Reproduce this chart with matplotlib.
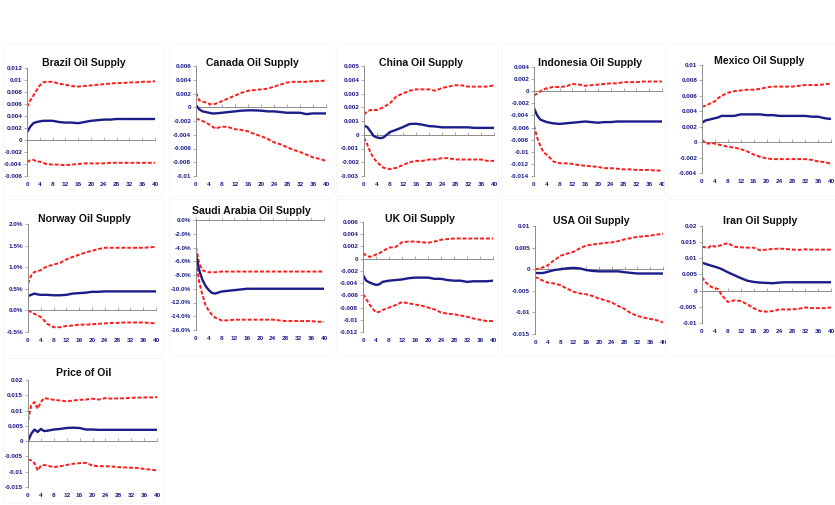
import numpy as np
import matplotlib
matplotlib.use("Agg")
import matplotlib.pyplot as plt
from matplotlib.ticker import FuncFormatter, MultipleLocator
from matplotlib.patches import Rectangle

# horizons (quarters) at which the responses are tabulated
h = [0, 1, 2, 3, 4, 5, 6, 8, 10, 12, 14, 16, 18, 20, 22, 24, 26, 28, 30, 32, 34, 36, 38, 40]

titles = ["Brazil Oil Supply", "Canada Oil Supply", "China Oil Supply",
          "Indonesia Oil Supply", "Mexico Oil Supply", "Norway Oil Supply",
          "Saudi Arabia Oil Supply", "UK Oil Supply", "USA Oil Supply",
          "Iran Oil Supply", "Price of Oil"]

# impulse response (irf) with upper / lower bands
brazil_irf = [0.0013, 0.0022, 0.0028, 0.0030, 0.0031, 0.0032, 0.0032, 0.0032, 0.0030, 0.0029, 0.0029, 0.0028,
              0.0030, 0.0032, 0.0033, 0.0034, 0.0034, 0.0035, 0.0035, 0.0035, 0.0035, 0.0035, 0.0035, 0.0035]
brazil_hi = [0.0055, 0.0066, 0.0074, 0.0083, 0.0091, 0.0096, 0.0097, 0.0097, 0.0094, 0.0092, 0.0090, 0.0089,
             0.0090, 0.0091, 0.0092, 0.0093, 0.0094, 0.0095, 0.0095, 0.0096, 0.0096, 0.0097, 0.0097, 0.0098]
brazil_lo = [-0.0037, -0.0034, -0.0033, -0.0036, -0.0036, -0.0038, -0.0040, -0.0041, -0.0041, -0.0042, -0.0041, -0.0040,
             -0.0039, -0.0039, -0.0039, -0.0039, -0.0038, -0.0038, -0.0038, -0.0038, -0.0038, -0.0038, -0.0038, -0.0038]

canada_irf = [0.0003, -0.0003, -0.0006, -0.0007, -0.0008, -0.0009, -0.0009, -0.0008, -0.0007, -0.0006, -0.0005, -0.00045,
              -0.00045, -0.0005, -0.0006, -0.0006, -0.0007, -0.0008, -0.0008, -0.0008, -0.0010, -0.0009, -0.0009, -0.0009]
canada_hi = [0.0021, 0.0010, 0.0008, 0.0007, 0.0005, 0.0004, 0.0005, 0.0009, 0.0013, 0.0017, 0.0021, 0.0024,
             0.0025, 0.0026, 0.0027, 0.0030, 0.0033, 0.0036, 0.0037, 0.0037, 0.0037, 0.0038, 0.0038, 0.0039]
canada_lo = [-0.0017, -0.0018, -0.0020, -0.0022, -0.0025, -0.0028, -0.0031, -0.0028, -0.0029, -0.0032, -0.0033, -0.0035,
             -0.0039, -0.0042, -0.0046, -0.0051, -0.0054, -0.0058, -0.0062, -0.0065, -0.0069, -0.0073, -0.0075, -0.0078]

china_irf = [0.00066, 0.00056, 0.00024, -0.0001, -0.0002, -0.00025, -0.0002, 0.0002, 0.00037, 0.00056, 0.00078, 0.0008,
             0.00073, 0.00063, 0.0006, 0.00054, 0.00054, 0.00054, 0.00054, 0.00054, 0.0005, 0.0005, 0.0005, 0.0005]
china_hi = [0.00146, 0.0017, 0.0018, 0.0018, 0.0018, 0.0019, 0.0020, 0.0023, 0.0028, 0.0030, 0.0032, 0.0033,
            0.0033, 0.0033, 0.0032, 0.0034, 0.0035, 0.0036, 0.0036, 0.0035, 0.0035, 0.0035, 0.0035, 0.0036]
china_lo = [-0.0002, -0.0007, -0.0013, -0.0017, -0.0020, -0.0022, -0.0024, -0.0025, -0.0024, -0.0022, -0.0020, -0.0019,
            -0.0019, -0.0018, -0.0018, -0.0017, -0.0017, -0.0018, -0.0018, -0.0018, -0.0018, -0.0018, -0.0019, -0.0019]

indonesia_irf = [-0.0028, -0.0040, -0.0047, -0.0049, -0.0051, -0.0052, -0.0053, -0.0054, -0.0053, -0.0052, -0.0051, -0.0050,
                 -0.0051, -0.0052, -0.0051, -0.0051, -0.0050, -0.0050, -0.0050, -0.0050, -0.0050, -0.0050, -0.0050, -0.0050]
indonesia_hi = [-0.0007, -0.0004, 0.0, 0.0003, 0.0005, 0.0006, 0.0007, 0.0007, 0.0008, 0.0012, 0.0011, 0.0009,
                0.0010, 0.0011, 0.0012, 0.0013, 0.0013, 0.0015, 0.0015, 0.0015, 0.0016, 0.0016, 0.0016, 0.0016]
indonesia_lo = [-0.0057, -0.0077, -0.0091, -0.0101, -0.0105, -0.0110, -0.0116, -0.0119, -0.0119, -0.0120, -0.0122, -0.0123,
                -0.0124, -0.0125, -0.0127, -0.0127, -0.0128, -0.0129, -0.0129, -0.0130, -0.0130, -0.0130, -0.0131, -0.0131]

mexico_irf = [0.0025, 0.0028, 0.0029, 0.0030, 0.0031, 0.0032, 0.0034, 0.0034, 0.0034, 0.0036, 0.0036, 0.0036,
              0.0036, 0.0035, 0.0035, 0.0034, 0.0034, 0.0034, 0.0034, 0.0034, 0.0033, 0.0033, 0.0031, 0.0030]
mexico_hi = [0.0046, 0.0047, 0.0049, 0.0051, 0.0053, 0.0057, 0.0060, 0.0064, 0.0066, 0.0067, 0.0068, 0.0068,
             0.0069, 0.0071, 0.0072, 0.0072, 0.0072, 0.0072, 0.0073, 0.0074, 0.0074, 0.0074, 0.0075, 0.0076]
mexico_lo = [0.0003, -0.0001, -0.0002, -0.0001, -0.0002, -0.0003, -0.0004, -0.0006, -0.0007, -0.0009, -0.0012, -0.0016,
             -0.0019, -0.0021, -0.0022, -0.0022, -0.0022, -0.0022, -0.0022, -0.0022, -0.0023, -0.0025, -0.0026, -0.0028]

norway_irf = [0.0033, 0.0036, 0.0039, 0.0037, 0.0036, 0.0036, 0.0036, 0.0035, 0.0035, 0.0036, 0.0039, 0.0040,
              0.0041, 0.0043, 0.0043, 0.0044, 0.0044, 0.0044, 0.0044, 0.0044, 0.0044, 0.0044, 0.0044, 0.0044]
norway_hi = [0.0062, 0.0081, 0.0089, 0.0091, 0.0093, 0.0098, 0.0102, 0.0106, 0.0110, 0.0118, 0.0124, 0.0129,
             0.0134, 0.0138, 0.0142, 0.0145, 0.0145, 0.0145, 0.0145, 0.0145, 0.0145, 0.0145, 0.0146, 0.0147]
norway_lo = [0.0, -0.0004, -0.0008, -0.0012, -0.0015, -0.0023, -0.0031, -0.0039, -0.0039, -0.0036, -0.0035, -0.0033,
             -0.0033, -0.0032, -0.0031, -0.0030, -0.0029, -0.0029, -0.0028, -0.0028, -0.0028, -0.0028, -0.0029, -0.0030]

saudi_irf = [-0.051, -0.073, -0.087, -0.096, -0.102, -0.106, -0.107, -0.104, -0.103, -0.102, -0.101, -0.100,
             -0.100, -0.100, -0.100, -0.100, -0.100, -0.100, -0.100, -0.100, -0.100, -0.100, -0.100, -0.100]
saudi_hi = [-0.040, -0.063, -0.073, -0.075, -0.076, -0.076, -0.076, -0.075, -0.075, -0.075, -0.075, -0.075,
            -0.075, -0.075, -0.075, -0.075, -0.075, -0.075, -0.075, -0.075, -0.075, -0.075, -0.075, -0.075]
saudi_lo = [-0.061, -0.090, -0.109, -0.124, -0.132, -0.138, -0.142, -0.146, -0.146, -0.145, -0.145, -0.145,
            -0.145, -0.145, -0.145, -0.145, -0.146, -0.147, -0.147, -0.147, -0.147, -0.147, -0.148, -0.148]

uk_irf = [-0.0027, -0.0036, -0.0039, -0.0041, -0.0043, -0.0042, -0.0038, -0.0036, -0.0035, -0.0034, -0.0032, -0.0031,
          -0.0031, -0.0031, -0.0033, -0.0033, -0.0035, -0.0036, -0.0036, -0.0038, -0.0037, -0.0037, -0.0037, -0.0036]
uk_hi = [0.0009, 0.0005, 0.0003, 0.0004, 0.0007, 0.0009, 0.0012, 0.0018, 0.0019, 0.0027, 0.0028, 0.0028,
         0.0027, 0.0026, 0.0028, 0.0031, 0.0032, 0.0033, 0.0033, 0.0033, 0.0033, 0.0033, 0.0033, 0.0033]
uk_lo = [-0.0058, -0.0066, -0.0075, -0.0082, -0.0088, -0.0087, -0.0084, -0.0080, -0.0076, -0.0071, -0.0073, -0.0075,
         -0.0077, -0.0080, -0.0083, -0.0088, -0.0090, -0.0091, -0.0093, -0.0095, -0.0098, -0.0100, -0.0102, -0.0102]

usa_irf = [-0.00085, -0.0009, -0.0009, -0.0008, -0.0006, -0.0004, -0.0002, 0.0, 0.0002, 0.0003, 0.0002, -0.0002,
           -0.0004, -0.0005, -0.0005, -0.0005, -0.0005, -0.0007, -0.00085, -0.0010, -0.0010, -0.0010, -0.0010, -0.0010]
usa_hi = [0.0, 0.0001, 0.0003, 0.0006, 0.0009, 0.0015, 0.0021, 0.0031, 0.0036, 0.0040, 0.0048, 0.0055,
          0.0057, 0.0059, 0.0061, 0.0062, 0.0065, 0.0069, 0.0072, 0.0075, 0.0076, 0.0078, 0.0080, 0.0082]
usa_lo = [-0.0018, -0.0021, -0.0025, -0.0028, -0.0031, -0.0032, -0.0033, -0.0037, -0.0045, -0.0052, -0.0056, -0.0058,
          -0.0062, -0.0068, -0.0072, -0.0077, -0.0085, -0.0092, -0.0102, -0.0108, -0.0112, -0.0115, -0.0118, -0.0123]

iran_irf = [0.0087, 0.0083, 0.0080, 0.0077, 0.0074, 0.0071, 0.0067, 0.0057, 0.0048, 0.0039, 0.0031, 0.0027,
            0.0025, 0.0024, 0.0023, 0.0025, 0.0026, 0.0026, 0.0026, 0.0026, 0.0026, 0.0026, 0.0026, 0.0026]
iran_hi = [0.0136, 0.0134, 0.0133, 0.0141, 0.0136, 0.0138, 0.0141, 0.0147, 0.0136, 0.0134, 0.0133, 0.0133,
           0.0125, 0.0127, 0.0129, 0.0130, 0.0129, 0.0127, 0.0126, 0.0128, 0.0127, 0.0127, 0.0127, 0.0127]
iran_lo = [0.0042, 0.0027, 0.0018, 0.0011, 0.0008, 0.0005, -0.0012, -0.0035, -0.0030, -0.0032, -0.0042, -0.0054,
           -0.0063, -0.0065, -0.0063, -0.0058, -0.0058, -0.0058, -0.0056, -0.0052, -0.0054, -0.0054, -0.0054, -0.0052]

price_irf = [0.0, 0.0024, 0.0038, 0.0030, 0.0040, 0.0033, 0.0034, 0.0038, 0.0040, 0.0043, 0.0044, 0.0043,
             0.0038, 0.0038, 0.0037, 0.0037, 0.0037, 0.0037, 0.0037, 0.0037, 0.0037, 0.0037, 0.0037, 0.0037]
price_hi = [0.0068, 0.0117, 0.0128, 0.0106, 0.0128, 0.0141, 0.0139, 0.0135, 0.0133, 0.0130, 0.0133, 0.0135,
            0.0136, 0.0139, 0.0136, 0.0141, 0.0139, 0.0140, 0.0140, 0.0142, 0.0142, 0.0143, 0.0143, 0.0144]
price_lo = [-0.0060, -0.0063, -0.0072, -0.0096, -0.0080, -0.0078, -0.0080, -0.0085, -0.0082, -0.0078, -0.0074, -0.0072,
            -0.0071, -0.0080, -0.0082, -0.0082, -0.0083, -0.0085, -0.0086, -0.0087, -0.0088, -0.0091, -0.0093, -0.0096]

series = [(brazil_irf, brazil_hi, brazil_lo), (canada_irf, canada_hi, canada_lo),
          (china_irf, china_hi, china_lo), (indonesia_irf, indonesia_hi, indonesia_lo),
          (mexico_irf, mexico_hi, mexico_lo), (norway_irf, norway_hi, norway_lo),
          (saudi_irf, saudi_hi, saudi_lo), (uk_irf, uk_hi, uk_lo),
          (usa_irf, usa_hi, usa_lo), (iran_irf, iran_hi, iran_lo),
          (price_irf, price_hi, price_lo)]

# y range (min, max, step) and whether labels are percentages
yaxes = [(-0.006, 0.012, 0.002, False), (-0.010, 0.006, 0.002, False),
         (-0.003, 0.005, 0.001, False), (-0.014, 0.004, 0.002, False),
         (-0.004, 0.010, 0.002, False), (-0.005, 0.020, 0.005, True),
         (-0.16, 0.0, 0.02, True), (-0.012, 0.006, 0.002, False),
         (-0.015, 0.010, 0.005, False), (-0.010, 0.020, 0.005, False),
         (-0.015, 0.020, 0.005, False)]

W, H = 835, 505
# plot boxes in pixels: left, right, top, bottom ; title centre x, y
boxes = [(27, 155, 68, 176, 84, 63), (196, 326, 66, 176, 252, 63),
         (364, 494, 66, 176, 421, 63), (534, 662, 67, 176, 590, 63),
         (702, 831, 65, 173, 759, 61), (28, 156, 224, 332, 84, 219),
         (196, 324, 220, 330, 251, 211), (363, 493, 222, 332, 420, 219),
         (535, 663, 226, 334, 591, 221), (702, 831, 226, 323, 760, 221),
         (28, 157, 380, 487, 84, 373)]

# faint frames around each embedded chart
frames = [(3, 163, 44, 196), (169, 333, 44, 196), (336, 498, 44, 196), (501, 664, 44, 196), (667, 835, 44, 196),
          (3, 163, 199, 355), (169, 333, 199, 355), (336, 498, 199, 355), (501, 664, 199, 355), (667, 835, 199, 355),
          (3, 163, 358, 503)]

NAVY = "#1c1c8a"
RED = "#ff1a1a"
FAMILY = ["Liberation Sans Narrow", "Liberation Sans", "DejaVu Sans"]
tick_font = {"family": FAMILY, "weight": "bold", "size": 4.6}

fig = plt.figure(figsize=(W / 100, H / 100), dpi=100)
fig.patch.set_facecolor("white")

for (x0, x1, y0, y1) in frames:
    fig.patches.append(Rectangle((x0 / W, 1 - y1 / H), (x1 - x0) / W, (y1 - y0) / H,
                                 transform=fig.transFigure, fill=False,
                                 edgecolor="#f6f6f6", linewidth=0.6))


def fmt_plain(v, pos):
    v = round(v, 6)
    if v == 0:
        return "0"
    return f"{v:g}"


def fmt_pct(v, pos):
    return f"{v * 100:.1f}%"


for title, (irf, hi, lo), (ymin, ymax, step, pct), box in zip(titles, series, yaxes, boxes):
    left, right, top, bottom, tx, ty = box
    ax = fig.add_axes([left / W, 1 - bottom / H, (right - left) / W, (bottom - top) / H])
    ax.set_facecolor("none")

    ax.plot(h, hi, color=RED, lw=1.4, linestyle=(0, (2, 1)))
    ax.plot(h, lo, color=RED, lw=1.4, linestyle=(0, (2, 1)))
    ax.plot(h, irf, color=NAVY, lw=1.7)

    ax.set_xlim(0, 40)
    ax.set_ylim(ymin, ymax)
    ax.yaxis.set_major_locator(MultipleLocator(step))
    ax.yaxis.set_major_formatter(FuncFormatter(fmt_pct if pct else fmt_plain))
    ax.xaxis.set_major_locator(MultipleLocator(4))

    for s in ["top", "right", "bottom"]:
        ax.spines[s].set_visible(False)
    ax.spines["left"].set_color("#8c8c8c")
    ax.spines["left"].set_linewidth(0.7)
    ax.tick_params(axis="y", length=2, width=0.5, color="#8c8c8c", pad=1.5, labelcolor=NAVY)
    ax.tick_params(axis="x", length=0, pad=4, labelcolor=NAVY)
    for lab in ax.get_xticklabels() + ax.get_yticklabels():
        lab.set_fontproperties(tick_font)

    # horizontal axis crossing at zero
    zx = ax.secondary_xaxis(0, transform=ax.transData)
    zx.xaxis.set_major_locator(MultipleLocator(4))
    zx.tick_params(axis="x", direction="in", length=2, width=0.5, color="#8c8c8c", labelbottom=False)
    zx.spines["bottom"].set_color("#8c8c8c")
    zx.spines["bottom"].set_linewidth(0.7)

    fig.text(tx / W, 1 - ty / H, title, ha="center", va="center",
             family=FAMILY, weight="bold", size=7.6, color="#111111")

fig.savefig("out.png", dpi=100, facecolor="white")
